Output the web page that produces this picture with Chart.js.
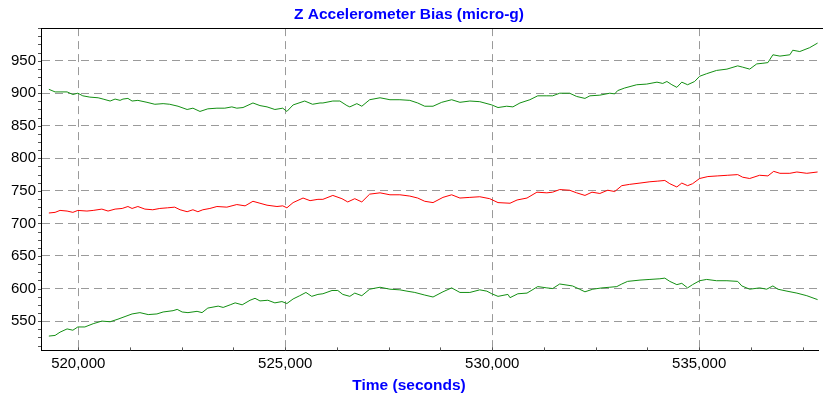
<!DOCTYPE html>
<html>
<head>
<meta charset="utf-8">
<script src="https://cdn.jsdelivr.net/npm/chart.js@4.4.1/dist/chart.umd.min.js"></script>
<style>
  html, body { margin: 0; padding: 0; background: #fff; }
  #wrap { width: 823px; height: 400px; }
</style>
</head>
<body>
<div id="wrap"><canvas id="bias-chart" width="823" height="400"></canvas></div>
<script>
// upper bound (green)
const upperTime = [519290, 519440, 519560, 519730, 519870, 519990, 520110, 520280, 520480, 520600, 520770, 520890, 521010, 521080, 521200, 521300, 521440, 521660, 521850, 522050, 522210, 522410, 522630, 522770, 522940, 523130, 523350, 523540, 523710, 523830, 523980, 524220, 524390, 524560, 524750, 524940, 525040, 525190, 525470, 525660, 525840, 525910, 526150, 526320, 526490, 526560, 526730, 526850, 527040, 527290, 527530, 527770, 528010, 528200, 528370, 528570, 528780, 529020, 529220, 529460, 529700, 529990, 530140, 530350, 530500, 530670, 530910, 531100, 531320, 531460, 531630, 531870, 532040, 532240, 532360, 532600, 532840, 532960, 533030, 533200, 533490, 533730, 533980, 534120, 534220, 534340, 534460, 534580, 534720, 534890, 535010, 535180, 535420, 535670, 535930, 536050, 536220, 536390, 536540, 536660, 536780, 536950, 537190, 537260, 537430, 537670, 537860];
const upperBias = [906, 902, 902, 902, 898, 900, 896, 894, 893, 891, 888, 891, 889, 891, 892, 888, 889, 886, 883, 884, 883, 880, 875, 877, 872, 876, 877, 877, 879, 877, 878, 885, 881, 879, 875, 877, 872, 882, 888, 883, 885, 885, 888, 888, 881, 879, 884, 880, 890, 893, 890, 890, 889, 885, 880, 880, 886, 890, 886, 888, 887, 882, 878, 880, 879, 885, 890, 896, 896, 896, 900, 900, 895, 892, 896, 897, 900, 899, 904, 908, 913, 914, 917, 915, 918, 913, 909, 917, 913, 918, 926, 930, 935, 937, 942, 940, 937, 945, 946, 947, 959, 957, 959, 966, 964, 970, 977];

// estimate (red)
const midTime = [519290, 519440, 519560, 519730, 519870, 519990, 520210, 520360, 520570, 520720, 520890, 521060, 521200, 521300, 521440, 521610, 521800, 521970, 522160, 522330, 522460, 522630, 522770, 522890, 523010, 523180, 523350, 523590, 523830, 524030, 524220, 524390, 524560, 524800, 524940, 525040, 525190, 525430, 525600, 525790, 525910, 526150, 526370, 526510, 526680, 526850, 527040, 527290, 527530, 527770, 528010, 528200, 528370, 528570, 528810, 529020, 529220, 529460, 529700, 529940, 530140, 530430, 530600, 530840, 531080, 531320, 531460, 531630, 531870, 532040, 532240, 532410, 532600, 532790, 532960, 533130, 533320, 533570, 533810, 534000, 534170, 534290, 534460, 534580, 534720, 534840, 535010, 535210, 535450, 535690, 535930, 536050, 536220, 536460, 536660, 536800, 536950, 537190, 537360, 537600, 537860];
const midBias = [716, 717, 720, 719, 717, 720, 719, 720, 722, 719, 722, 723, 726, 723, 726, 722, 721, 723, 724, 725, 721, 718, 721, 718, 721, 723, 726, 725, 729, 727, 734, 731, 728, 726, 727, 724, 732, 739, 735, 737, 737, 743, 738, 733, 738, 733, 745, 747, 744, 744, 742, 739, 734, 732, 740, 744, 739, 740, 741, 738, 732, 731, 736, 739, 748, 747, 748, 752, 751, 747, 743, 748, 746, 751, 749, 758, 760, 762, 764, 765, 766, 761, 756, 762, 758, 761, 769, 772, 773, 774, 775, 771, 769, 774, 773, 780, 777, 777, 779, 777, 779];

// lower bound (green)
const lowerTime = [519290, 519440, 519560, 519730, 519870, 519990, 520160, 520360, 520570, 520770, 520960, 521130, 521300, 521490, 521690, 521900, 522050, 522290, 522390, 522510, 522650, 522870, 522990, 523130, 523380, 523500, 523670, 523790, 523960, 524150, 524270, 524390, 524580, 524750, 524920, 525040, 525190, 525350, 525500, 525640, 525790, 525910, 526130, 526270, 526390, 526560, 526680, 526850, 527040, 527290, 527530, 527770, 527940, 528130, 528370, 528570, 528810, 529020, 529220, 529460, 529700, 529870, 529990, 530140, 530380, 530430, 530620, 530840, 531100, 531320, 531460, 531630, 531940, 532110, 532240, 532430, 532650, 532840, 533010, 533130, 533270, 533570, 533810, 534050, 534170, 534290, 534460, 534580, 534720, 534840, 535010, 535180, 535420, 535670, 535930, 536030, 536220, 536460, 536630, 536780, 536900, 537120, 537360, 537600, 537860];
const lowerBias = [527, 528, 533, 538, 536, 541, 541, 546, 550, 549, 553, 557, 561, 563, 560, 561, 564, 566, 568, 564, 563, 565, 563, 570, 573, 571, 575, 578, 575, 582, 585, 581, 582, 578, 580, 577, 584, 589, 594, 588, 591, 592, 597, 597, 591, 588, 593, 589, 599, 602, 599, 598, 596, 594, 590, 587, 595, 601, 594, 594, 598, 596, 592, 588, 591, 586, 592, 593, 603, 601, 600, 607, 604, 599, 595, 599, 601, 602, 603, 607, 611, 613, 614, 615, 616, 611, 606, 608, 601, 606, 612, 614, 612, 612, 611, 604, 599, 601, 599, 604, 599, 596, 593, 589, 583];

const xMajorTicks = [520000, 525000, 530000, 535000];
const yMajorTicks = [550, 600, 650, 700, 750, 800, 850, 900, 950];

const toPoints = (times, values) => times.map((t, i) => ({ x: t, y: values[i] }));

const blue = '#0000ff';
const gridGrey = '#9a9a9a';
const axisFont = { family: 'Liberation Sans', size: 15 };
const titleFont = { family: 'Liberation Sans', size: 15.5, weight: 'bold' };

// top frame line + small minor ticks on both axes
const frameAndMinorTicks = {
    id: 'frameAndMinorTicks',
    afterDraw: (chart) => {
        const { ctx, chartArea } = chart;
        const x = chart.scales.x;
        const y = chart.scales.y;
        ctx.save();
        ctx.strokeStyle = '#000';
        ctx.lineWidth = 1;
        ctx.beginPath();
        ctx.moveTo(chartArea.left, Math.round(chartArea.top) + 0.5);
        ctx.lineTo(chart.width, Math.round(chartArea.top) + 0.5);
        ctx.stroke();

        ctx.strokeStyle = '#555';
        ctx.beginPath();
        for (let v = 520000; v <= x.max; v += 1250) {
            const px = Math.round(x.getPixelForValue(v)) + 0.5;
            ctx.moveTo(px, chartArea.bottom);
            ctx.lineTo(px, chartArea.bottom - 3);
        }
        for (let v = 512.5; v <= y.max; v += 12.5) {
            const py = Math.round(y.getPixelForValue(v)) + 0.5;
            ctx.moveTo(chartArea.left, py);
            ctx.lineTo(chartArea.left - 3, py);
        }
        ctx.stroke();
        ctx.restore();
    }
};

const ctx = document.getElementById('bias-chart').getContext('2d');

new Chart(ctx, {
    type: 'line',
    data: {
        datasets: [
            {
                label: 'Upper',
                data: toPoints(upperTime, upperBias),
                borderColor: '#138f13',
                borderWidth: 1,
                pointRadius: 0,
                tension: 0
            },
            {
                label: 'Bias',
                data: toPoints(midTime, midBias),
                borderColor: '#ff0000',
                borderWidth: 1,
                pointRadius: 0,
                tension: 0
            },
            {
                label: 'Lower',
                data: toPoints(lowerTime, lowerBias),
                borderColor: '#138f13',
                borderWidth: 1,
                pointRadius: 0,
                tension: 0
            }
        ]
    },
    options: {
        responsive: false,
        animation: false,
        layout: {
            padding: { right: 5 }
        },
        plugins: {
            legend: { display: false },
            tooltip: { enabled: false },
            title: {
                display: true,
                text: 'Z Accelerometer Bias (micro-g)',
                color: blue,
                font: titleFont,
                padding: { top: 5, bottom: 4.5 }
            },
            // x axis caption, centred on the whole canvas like the original
            subtitle: {
                display: true,
                position: 'bottom',
                text: 'Time (seconds)',
                color: blue,
                font: titleFont,
                padding: { top: 2, bottom: 5 }
            }
        },
        scales: {
            x: {
                type: 'linear',
                min: 519100,
                max: 537870,
                afterBuildTicks: (scale) => {
                    scale.ticks = xMajorTicks.map(v => ({ value: v }));
                },
                afterFit: (scale) => {
                    scale.height = 24;
                },
                ticks: {
                    color: '#000',
                    font: axisFont,
                    padding: 4,
                    maxRotation: 0,
                    autoSkip: false,
                    callback: (value) => value.toLocaleString('en-US')
                },
                grid: {
                    color: gridGrey,
                    lineWidth: 1,
                    drawTicks: false
                },
                border: {
                    display: true,
                    color: '#000',
                    width: 1,
                    dash: [8, 5]
                }
            },
            y: {
                min: 505,
                max: 1000,
                afterBuildTicks: (scale) => {
                    scale.ticks = yMajorTicks.map(v => ({ value: v }));
                },
                afterFit: (scale) => {
                    scale.width = 41;
                },
                ticks: {
                    color: '#000',
                    font: axisFont,
                    padding: 5
                },
                grid: {
                    color: gridGrey,
                    lineWidth: 1,
                    drawTicks: false
                },
                border: {
                    display: true,
                    color: '#000',
                    width: 1,
                    dash: [8, 5]
                }
            }
        }
    },
    plugins: [frameAndMinorTicks]
});
</script>
</body>
</html>
